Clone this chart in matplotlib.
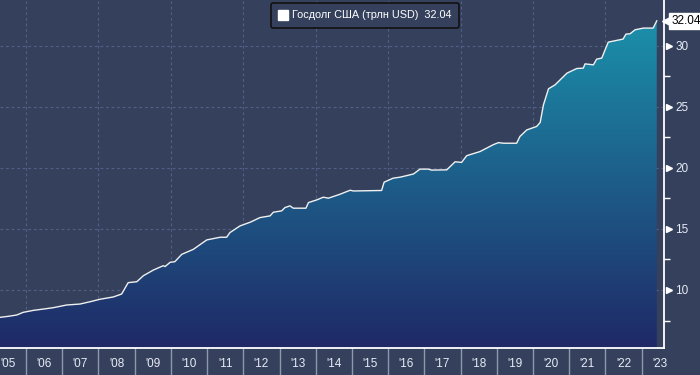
import numpy as np
import matplotlib
matplotlib.use("Agg")
import matplotlib.pyplot as plt
from matplotlib.colors import LinearSegmentedColormap
from matplotlib.lines import Line2D
import matplotlib.transforms as mtransforms

plt.rcParams["font.family"] = ["Liberation Sans", "DejaVu Sans"]

# US federal debt, trillion USD
years = [2005.28, 2005.50, 2005.74, 2005.92, 2006.20, 2006.48, 2006.75, 2007.12,
         2007.49, 2007.77, 2008.04, 2008.41, 2008.64, 2008.82, 2009.06, 2009.24,
         2009.52, 2009.79, 2009.84, 2009.98, 2010.11, 2010.30, 2010.62, 2010.99,
         2011.36, 2011.54, 2011.63, 2011.91, 2012.19, 2012.46, 2012.74, 2012.83,
         2013.06, 2013.15, 2013.29, 2013.38, 2013.73, 2013.80, 2014.03, 2014.21,
         2014.35, 2014.67, 2014.95, 2015.04, 2015.82, 2015.89, 2016.14, 2016.33,
         2016.70, 2016.88, 2017.11, 2017.20, 2017.62, 2017.85, 2018.03, 2018.17,
         2018.54, 2018.91, 2019.05, 2019.19, 2019.55, 2019.64, 2019.83, 2020.10,
         2020.20, 2020.29, 2020.43, 2020.61, 2020.94, 2021.21, 2021.39, 2021.44,
         2021.67, 2021.76, 2021.90, 2022.08, 2022.26, 2022.49, 2022.57, 2022.68,
         2022.82, 2023.05, 2023.32, 2023.42]
debt = [7.76, 7.84, 7.95, 8.17, 8.33, 8.44, 8.55, 8.77,
        8.85, 9.04, 9.24, 9.43, 9.67, 10.60, 10.68, 11.17,
        11.64, 11.99, 11.92, 12.27, 12.32, 12.92, 13.33, 14.10,
        14.32, 14.32, 14.70, 15.25, 15.55, 15.93, 16.07, 16.37,
        16.48, 16.75, 16.89, 16.70, 16.70, 17.16, 17.38, 17.60,
        17.52, 17.84, 18.17, 18.11, 18.15, 18.83, 19.16, 19.24,
        19.50, 19.90, 19.90, 19.82, 19.84, 20.50, 20.45, 21.00,
        21.34, 21.91, 22.07, 22.02, 22.02, 22.57, 23.11, 23.39,
        23.72, 25.16, 26.48, 26.80, 27.76, 28.14, 28.17, 28.52,
        28.44, 28.91, 28.99, 30.30, 30.41, 30.55, 30.96, 30.98,
        31.31, 31.45, 31.45, 32.04]

last_value = 32.04
series_label = "Госдолг США (трлн USD)"
year_ticks = list(range(2006, 2024))
year_labels = ["'%02d" % (y % 100) for y in range(2005, 2024)]
y_ticks = [10, 15, 20, 25, 30]
y_minor = [7.5, 12.5, 17.5, 22.5, 27.5]

BG = "#35415c"
GRID = "#4f5f86"
TXT = "#e6ebf5"

fig = plt.figure(figsize=(7, 3.75), dpi=100, facecolor=BG)
ax = fig.add_axes([0, 27 / 375, 664 / 700, 348 / 375])
ax.set_facecolor(BG)

xmin, xmax = 2005.28, 2023.62
ymin, ymax = 5.25, 33.75
ax.set_xlim(xmin, xmax)
ax.set_ylim(ymin, ymax)

# gradient area under the line
cmap = LinearSegmentedColormap.from_list("debt", ["#1f2966", "#1b90ab"])
grad = np.linspace(0, 1, 256).reshape(-1, 1)
poly = ax.fill_between(years, debt, ymin, color="none", lw=0)
img = ax.imshow(grad, cmap=cmap, origin="lower", aspect="auto",
                extent=[xmin, xmax, ymin, max(debt)], zorder=2)
img.set_clip_path(poly.get_paths()[0], transform=ax.transData)
ax.plot(years, debt, color="#f0f0f0", lw=1.0, zorder=3)

# grid
for y in y_ticks:
    ax.axhline(y, color=GRID, lw=0.8, ls=(0, (2.5, 2.5)), zorder=1)
for x in year_ticks[::2]:
    ax.axvline(x, color=GRID, lw=0.8, ls=(0, (2.5, 2.5)), zorder=1)

for s in ["left", "top"]:
    ax.spines[s].set_visible(False)
for s in ["right", "bottom"]:
    ax.spines[s].set_color("white")
    ax.spines[s].set_linewidth(1.3)
    ax.spines[s].set_zorder(5)

# x axis: long separators at year boundaries, labels mid-year
ax.set_xticks(year_ticks)
ax.set_xticklabels([])
ax.set_xticks([y + 0.5 for y in range(2005, 2024)], minor=True)
ax.set_xticklabels(year_labels, minor=True)
ax.tick_params(axis="x", which="major", length=20, width=1, color="#8e98ad",
               direction="out")
ax.tick_params(axis="x", which="minor", length=0, pad=7, labelsize=8.5,
               labelcolor=TXT)

# y axis on the right
ax.yaxis.tick_right()
ax.set_yticks(y_ticks)
ax.set_yticklabels([str(v) for v in y_ticks])
ax.set_yticks(y_minor, minor=True)
ax.tick_params(axis="y", which="major", length=0, pad=8, labelsize=8.5,
               labelcolor=TXT)
ax.tick_params(axis="y", which="minor", length=4, width=1, color="white",
               direction="out")
trans = mtransforms.blended_transform_factory(ax.transAxes, ax.transData)
ax.plot([1.007] * len(y_ticks), y_ticks, ls="none", marker=">", ms=5,
        color="white", transform=trans, clip_on=False, zorder=6)

# last value tag
ax.plot([1.005], [last_value], ls="none", marker="<", ms=7, color="white",
        transform=trans, clip_on=False, zorder=6)
ax.text(1.011, last_value, "%.2f" % last_value, transform=trans, va="center",
        ha="left", fontsize=8.5, color="black", zorder=7,
        bbox=dict(boxstyle="square,pad=0.2", fc="white", ec="white"))

# legend
handle = Line2D([], [], ls="none", marker="s", ms=7, color="white")
leg = ax.legend([handle], ["%s  %.2f" % (series_label, last_value)],
                loc="upper center", bbox_to_anchor=(0.5497, 0.992),
                frameon=True, fancybox=True, facecolor=BG, edgecolor="#111111",
                framealpha=1, fontsize=7.8, labelcolor="white", handletextpad=0.5,
                handlelength=0.8, borderpad=0.7, borderaxespad=0)
leg.get_frame().set_linewidth(1.2)
leg.set_zorder(8)

fig.savefig("out.png", dpi=100, facecolor=BG)
